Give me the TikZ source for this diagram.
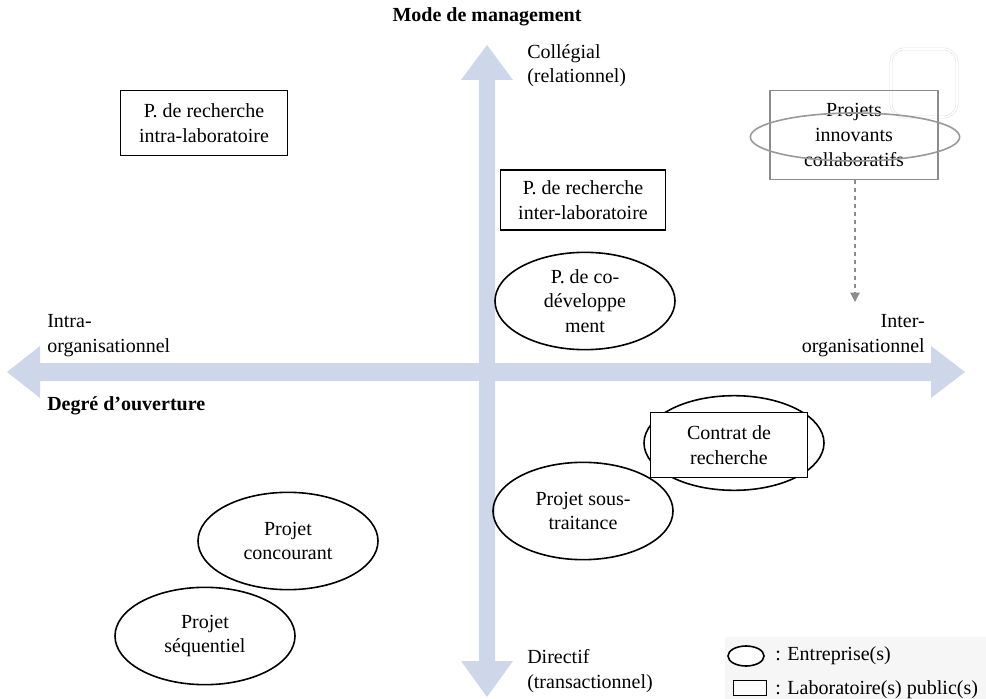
\documentclass[tikz,border=0pt]{standalone}
\usepackage{fontspec}
\setmainfont{Liberation Serif}
\usetikzlibrary{shapes.geometric,arrows.meta}

\definecolor{axisblue}{RGB}{206,214,233}
\definecolor{legendgray}{RGB}{246,246,246}

\begin{document}
\begin{tikzpicture}[x=0.75pt,y=-0.75pt,
  font=\fontsize{15}{18.5}\selectfont,
  ent/.style={shape=ellipse,draw,line width=1.2pt,align=center,
    minimum width=135pt,minimum height=73pt,inner sep=0pt},
  lab/.style={shape=rectangle,draw,line width=1.2pt,align=center,inner sep=0pt},
  txt/.style={align=left,inner sep=0pt,anchor=north west}]

  \useasboundingbox (0,0) rectangle (986,699);

  % axes
  \fill [axisblue] (40,363) -- (40,346) -- (7,372) -- (40,398) -- (40,381)
    -- (931,381) -- (931,398) -- (965,372) -- (931,346) -- (931,363) -- cycle;
  \fill [axisblue] (479,80) -- (461,80) -- (487,45) -- (513,80) -- (495,80)
    -- (495,661) -- (513,661) -- (487,697) -- (461,661) -- (479,661) -- cycle;

  \node (title) at (487,17) [inner sep=0pt] {\textbf{Mode de management}};
  \node (top) at (527,44) [txt] {Collégial\\(relationnel)};
  \node (bottom) at (527,649) [txt] {Directif\\(transactionnel)};
  \node (left) at (47,314) [txt] {Intra-\\organisationnel};
  \node (right) at (925,314) [align=right,inner sep=0pt,anchor=north east] {Inter-\\organisationnel};
  \node (ouv) at (47,396) [txt] {\textbf{Degré d’ouverture}};

  % laboratoires
  \node (intra) at (204,123) [lab,minimum width=125pt,minimum height=49pt] {P. de recherche\\intra-laboratoire};
  \node (inter) at (583,200) [lab,minimum width=124pt,minimum height=45pt] {P. de recherche\\inter-laboratoire};

  % entreprises
  \node (codev) at (585,301) [ent] {P. de co-\\développe\\ment};
  \node (soust) at (583,511) [ent] {Projet sous-\\traitance};
  \node (conc) at (288,541) [ent] {Projet\\concourant};
  \node (seq) at (205,636) [ent] {Projet\\séquentiel};
  \node (contratell) at (734,443) [ent,minimum height=71pt] {};
  \node (contrat) at (729,445) [lab,fill=white,minimum width=118pt,minimum height=49pt] {Contrat de\\recherche};

  % projets innovants
  \draw [black!12,double=white,double distance=1.2pt,rounded corners=10pt] (891,49) rectangle (957,117);
  \node (innov) at (854,135) [lab,draw=black!45,minimum width=126pt,minimum height=67pt] {Projets\\innovants\\collaboratifs};
  \node (innovell) at (855,137) [ent,draw=black!40,minimum width=157pt,minimum height=36pt] {};
  \coordinate (innovend) at (855,302);
  \draw [black!45,line width=1pt,dashed,-{Triangle[length=7pt,width=7pt]}] (innov.south -| innovend) -- (innovend);

  % legende
  \fill [legendgray] (725,637) rectangle (986,699);
  \node (legent) at (746,656) [ent,fill=white,minimum width=27pt,minimum height=15pt] {};
  \node at (775,656) [anchor=west,inner sep=0pt] {: Entreprise(s)};
  \node (leglab) at (750,688) [lab,fill=white,minimum width=25pt,minimum height=11.5pt] {};
  \node at (775,690) [anchor=west,inner sep=0pt] {: Laboratoire(s) public(s)};

\end{tikzpicture}
\end{document}
